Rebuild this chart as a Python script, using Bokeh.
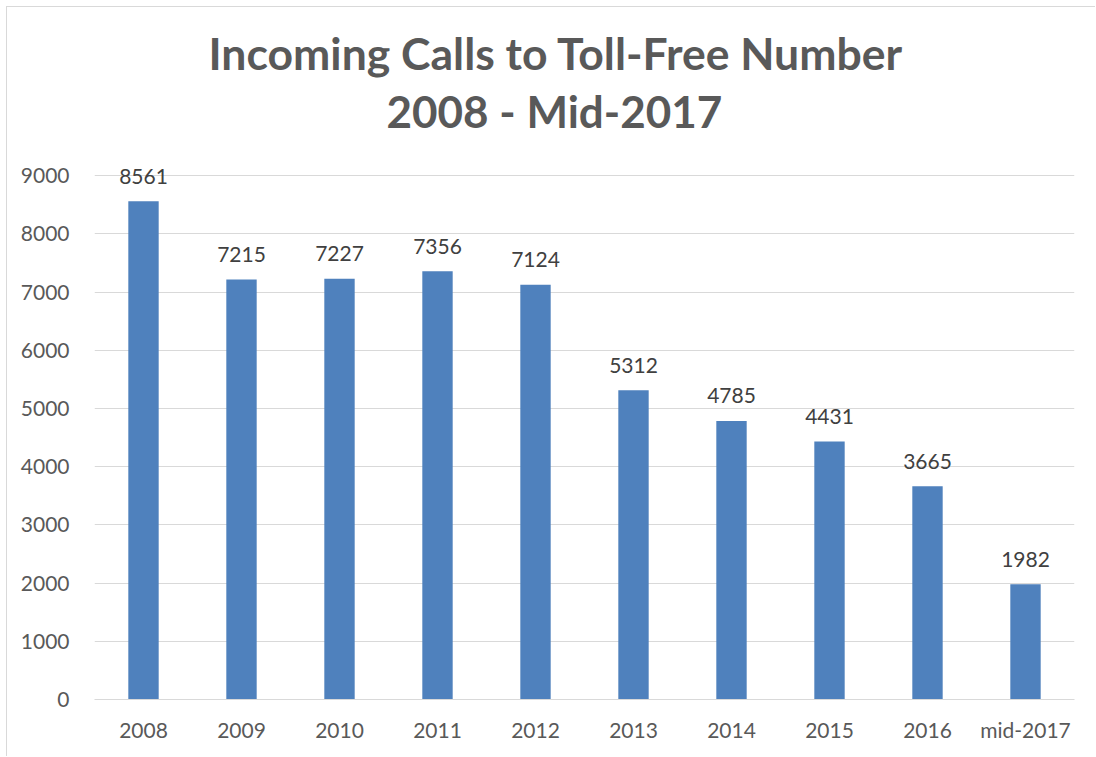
from bokeh.plotting import figure
from bokeh.models import ColumnDataSource, Title, FixedTicker, NumeralTickFormatter, LabelSet
from bokeh.core.properties import value
from bokeh.embed import file_html
from bokeh.resources import INLINE

categories = ["2008", "2009", "2010", "2011", "2012", "2013", "2014", "2015", "2016", "mid-2017"]
calls = [8561, 7215, 7227, 7356, 7124, 5312, 4785, 4431, 3665, 1982]
y_ticks = [0, 1000, 2000, 3000, 4000, 5000, 6000, 7000, 8000, 9000]
title_line1 = "Incoming Calls to Toll-Free Number"
title_line2 = "2008 - Mid-2017"

FONT = "Lato"
BAR = "#4f81bd"
TXT = "#595959"

src = ColumnDataSource(dict(cat=categories, val=calls, lab=[str(v) for v in calls]))

p = figure(x_range=categories, y_range=(0, 9500), width=1089, height=750,
           output_backend="svg", toolbar_location=None,
           min_border_left=87, min_border_right=22, min_border_top=139, min_border_bottom=58)
p.styles = {"border-left": "1px solid #d9d9d9", "border-top": "1px solid #d9d9d9",
            "margin-left": "6px", "margin-top": "6px"}

p.vbar(x="cat", top="val", width=0.31, source=src, fill_color=BAR, line_color=None)
labels = LabelSet(x="cat", y="val", text="lab", source=src, text_align="center",
                  text_baseline="middle", y_offset=25, text_font=value(FONT),
                  text_font_size=value("21px"), text_color=value("#404040"))
p.add_layout(labels)

t2 = Title(text=title_line2, align="left", offset=292, text_font=FONT, text_font_size="44px",
           text_font_style="bold", text_color=TXT, standoff=20, text_line_height=0.8)
t1 = Title(text=title_line1, align="left", offset=114, text_font=FONT, text_font_size="44.5px",
           text_font_style="bold", text_color=TXT, standoff=-13, text_line_height=0.8)
p.add_layout(t2, "above")
p.add_layout(t1, "above")

p.yaxis.ticker = FixedTicker(ticks=y_ticks)
p.yaxis.formatter = NumeralTickFormatter(format="0")
for ax in (p.xaxis, p.yaxis):
    ax.axis_line_color = None
    ax.major_tick_line_color = None
    ax.minor_tick_line_color = None
    ax.major_label_text_font = FONT
    ax.major_label_text_font_size = "21px"
    ax.major_label_text_color = TXT
p.yaxis.major_label_standoff = 19
p.xaxis.major_label_standoff = 11
p.xaxis.axis_line_color = "#d9d9d9"
p.xaxis.axis_line_width = 1

p.xgrid.grid_line_color = None
p.ygrid.grid_line_color = "#d9d9d9"
p.ygrid.grid_line_width = 1
p.outline_line_color = None
p.x_range.range_padding = 0

open("out.html", "w").write(file_html(p, INLINE))
